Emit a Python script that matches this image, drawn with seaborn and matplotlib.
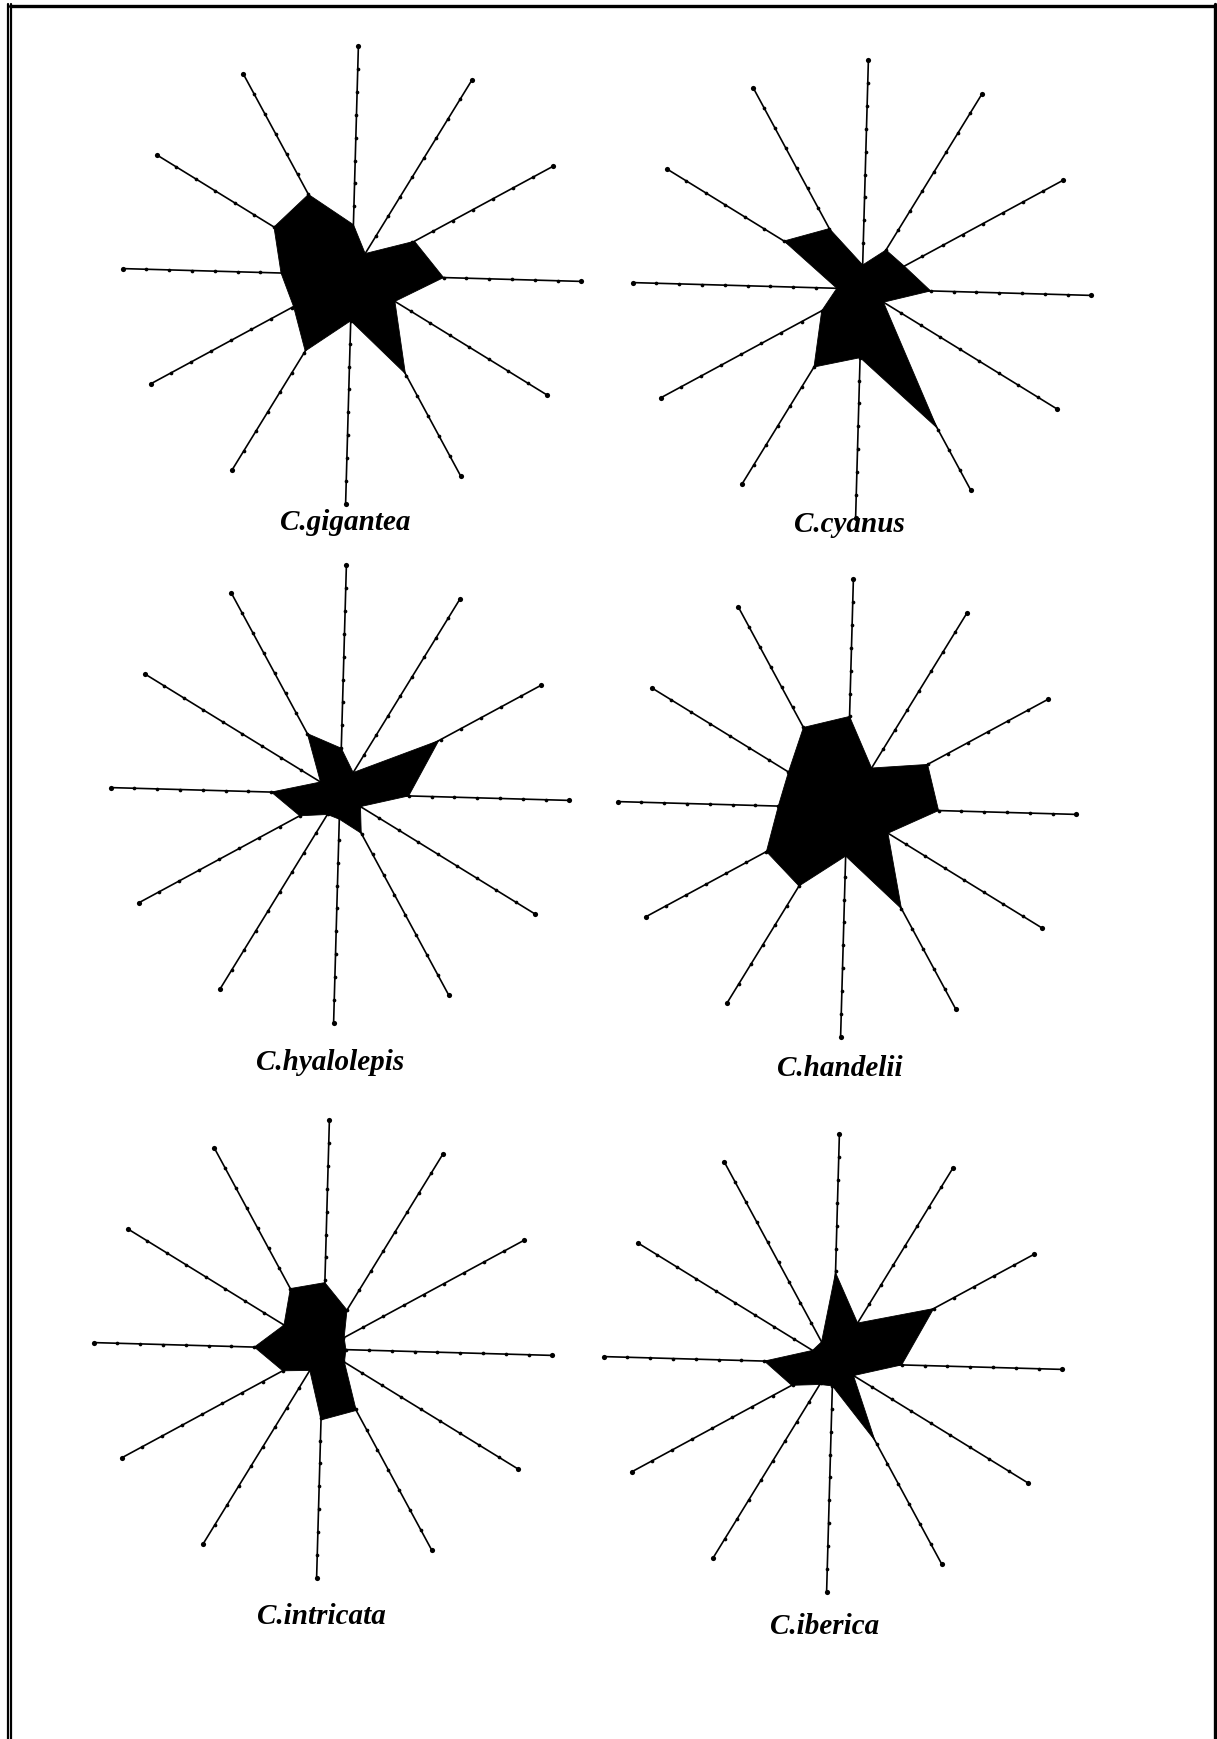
import numpy as np
import pandas as pd
import matplotlib
matplotlib.use("Agg")
import matplotlib.pyplot as plt
import seaborn as sns

# ---- data (value on each of the 12 axes, clockwise from the top, scale 0-10) ----
species = ["C.gigantea", "C.cyanus", "C.hyalolepis", "C.handelii", "C.intricata", "C.iberica"]
gigantea   = [2.2, 1.1, 3.1, 4.0, 2.2, 4.9, 2.0, 3.9, 2.9, 3.1, 4.0, 4.0]
cyanus     = [1.05, 2.0, 2.1, 3.0, 1.1, 6.9, 3.0, 4.0, 2.0, 1.1, 4.0, 3.0]
hyalolepis = [2.0, 1.1, 4.9, 3.0, 1.05, 1.95, 1.1, 1.05, 2.0, 3.0, 1.0, 3.0]
handelii   = [4.0, 2.05, 4.0, 4.0, 2.1, 5.0, 2.1, 4.0, 4.0, 3.0, 3.0, 4.0]
intricata  = [2.9, 2.0, 1.05, 1.0, 1.1, 3.05, 3.1, 1.1, 2.0, 3.0, 2.0, 3.0]
iberica    = [3.95, 2.05, 5.0, 3.0, 1.05, 3.85, 1.0, 1.1, 2.05, 3.0, 1.05, 1.05]
scale_ticks = list(range(0, 11))   # dots on each spoke
n_axes = 12

series = [gigantea, cyanus, hyalolepis, handelii, intricata, iberica]

# ---- layout (pixels on a 1217 x 1739 canvas) ----
W, H = 1217, 1739
centers = [(352, 275), (862, 289), (340, 794), (847, 808), (323, 1349), (833, 1363)]
title_pos = [(345, 523), (849, 525), (330, 1063), (840, 1069), (321, 1617), (825, 1627)]
px_per_unit = 22.9
half = 270  # half size of each axes in px
rot = np.deg2rad(-1.6)

sns.set_theme(style="white")
plt.rcParams["font.family"] = ["Liberation Serif", "DejaVu Serif"]

fig = plt.figure(figsize=(W / 100, H / 100), dpi=100)
fig.patch.set_facecolor("white")

angles = np.pi / 2 - np.arange(n_axes) * 2 * np.pi / n_axes + rot

for i, (vals, (cx, cy), (tx, ty), name) in enumerate(zip(series, centers, title_pos, species)):
    ax = fig.add_axes([(cx - half) / W, 1 - (cy + half) / H, 2 * half / W, 2 * half / H])
    lim = half / px_per_unit
    ax.set_xlim(-lim, lim)
    ax.set_ylim(-lim, lim)
    ax.set_axis_off()

    # spokes
    rows = []
    for k in range(n_axes):
        for r in scale_ticks:
            rows.append({"spoke": k, "r": r,
                         "x": r * np.cos(angles[k]), "y": r * np.sin(angles[k])})
    df = pd.DataFrame(rows)
    sns.lineplot(data=df, x="x", y="y", units="spoke", estimator=None, sort=False,
                 color="black", lw=1.2, ax=ax, legend=False)
    sns.scatterplot(data=df[(df.r > 0) & (df.r < 10)], x="x", y="y", s=7, color="black",
                    edgecolor="black", linewidth=0, ax=ax, legend=False)
    sns.scatterplot(data=df[df.r == 10], x="x", y="y", s=14, color="black",
                    edgecolor="black", linewidth=0, ax=ax, legend=False)

    # filled polygon
    v = np.array(vals)
    px = v * np.cos(angles)
    py = v * np.sin(angles)
    ax.fill(px, py, color="black", lw=0.6, ec="black", zorder=5)
    ax.set_xlabel("")
    ax.set_ylabel("")

    fig.text(tx / W, 1 - ty / H, name, ha="center", va="center", color="black",
             fontsize=21, fontweight="bold", fontstyle="italic",
             family=["Liberation Serif", "DejaVu Serif"])

# page frame (double line on the left, single on top and right)
frame = fig.add_axes([0, 0, 1, 1])
frame.set_xlim(0, W)
frame.set_ylim(H, 0)
frame.set_axis_off()
frame.patch.set_alpha(0)
frame.plot([8, 8], [4, H], color="black", lw=1.6)
frame.plot([11.3, 11.3], [4, H], color="black", lw=1.6)
frame.plot([10, W], [5.5, 5.5], color="black", lw=2.4)
frame.plot([1215.3, 1215.3], [4, H], color="black", lw=2.4)

fig.savefig("out.png", dpi=100, facecolor="white")
